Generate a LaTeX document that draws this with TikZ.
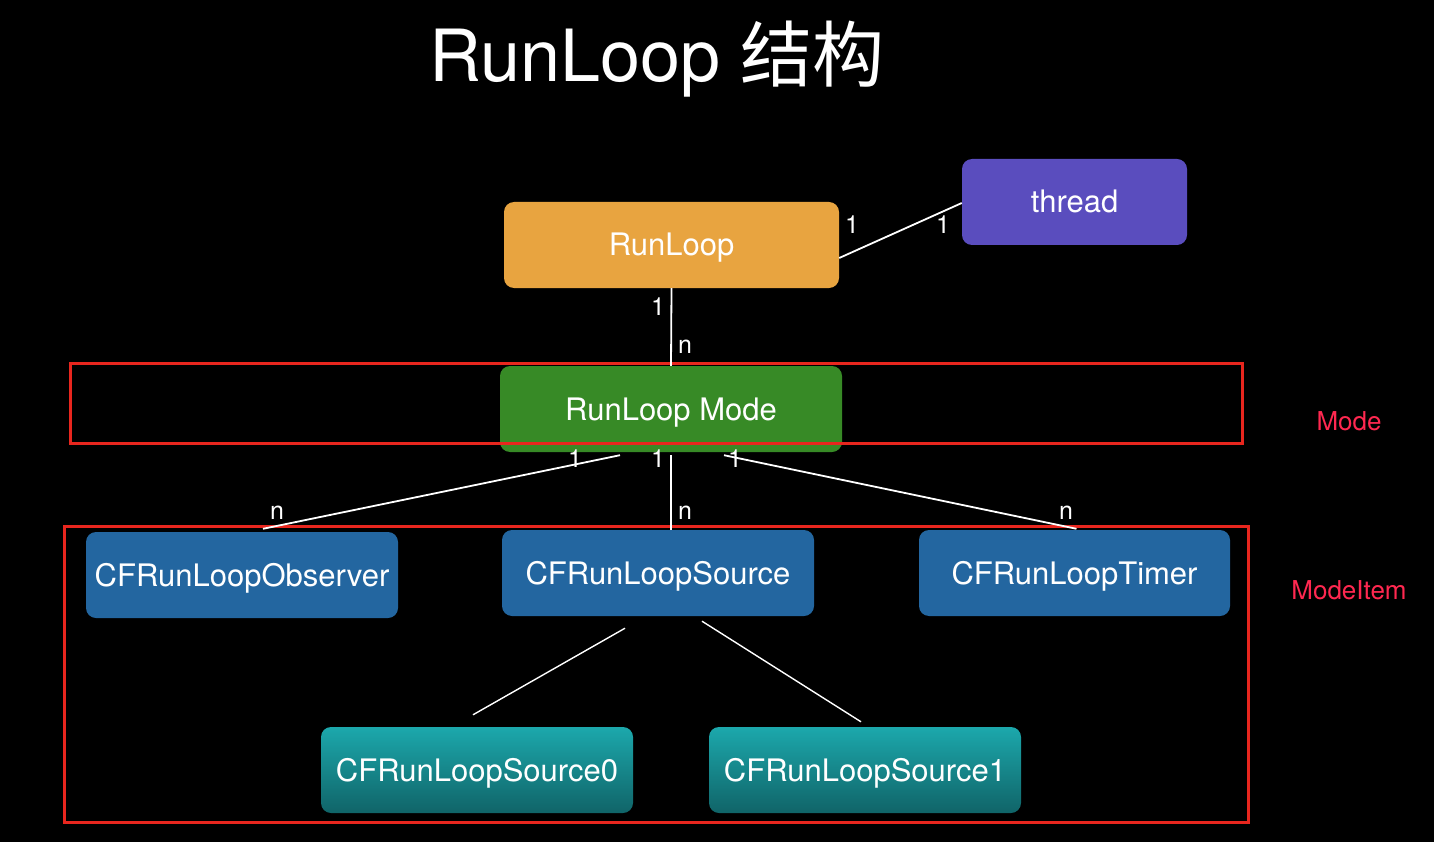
\documentclass[tikz,border=0pt]{standalone}
\usepackage{fontspec}
\setmainfont{TeX Gyre Heros}
\newfontfamily\cjk{Noto Sans CJK SC}
\definecolor{rlorange}{RGB}{232,164,64}
\definecolor{thpurple}{RGB}{90,77,190}
\definecolor{mdgreen}{RGB}{55,138,38}
\definecolor{itblue}{RGB}{35,102,160}
\definecolor{tealtop}{RGB}{28,168,172}
\definecolor{tealbot}{RGB}{16,100,104}
\definecolor{framered}{RGB}{232,38,30}
\definecolor{labpink}{RGB}{255,40,80}
\tikzset{
  box/.style={rounded corners=10pt, text=white, minimum width=312pt, minimum height=86pt,
    inner sep=0pt, text height=22pt, text depth=0pt, font=\fontsize{31}{37}\selectfont},
  tealbox/.style={box, top color=tealtop, bottom color=tealbot},
  frame/.style={draw=framered, line width=3pt, inner sep=0pt},
  conn/.style={draw=white, line width=1.8pt},
  lab/.style={text=white, inner sep=0pt, font=\fontsize{25}{30}\selectfont},
  side/.style={text=labpink, inner sep=0pt, font=\fontsize{26}{31}\selectfont}
}
\begin{document}
\begin{tikzpicture}[x=1pt,y=-1pt]
\fill[black] (0,0) rectangle (1434,842);
\useasboundingbox (0,0) rectangle (1434,842);

\node[text=white, anchor=base, inner sep=0pt, font=\fontsize{72}{86}\selectfont] (title) at (657,82) {RunLoop {\cjk 结构}};

\node[box, fill=rlorange, minimum width=335pt] (rl) at (671.5,245) {RunLoop};
\node[box, fill=thpurple, minimum width=225pt] (th) at (1074.5,202) {thread};
\node[box, fill=mdgreen, minimum width=342pt] (mode) at (671,409) {RunLoop Mode};
\node[box, fill=itblue] (obs) at (242,575) {CFRunLoopObserver};
\node[box, fill=itblue] (src) at (658,573) {CFRunLoopSource};
\node[box, fill=itblue, minimum width=311pt] (tim) at (1074.5,573) {CFRunLoopTimer};
\node[tealbox] (s0) at (477,770) {CFRunLoopSource0};
\node[tealbox] (s1) at (865,770) {CFRunLoopSource1};

\node[frame, minimum width=1172pt, minimum height=80pt] (mf) at (656,403) {};
\node[frame, minimum width=1184pt, minimum height=296pt] (itf) at (656,674) {};
\node[side] (mlab) at (1349,421) {Mode};
\node[side] (ilab) at (1349,590) {ModeItem};

\draw[conn] ([yshift=-13pt]rl.east) -- ([yshift=-1pt]th.west);
\draw[conn] (rl.south) -- (mode.north);
\draw[conn] ([xshift=-51pt,yshift=-3pt]mode.south) -- ([xshift=21pt,yshift=3pt]obs.north);
\draw[conn] ([yshift=-3pt]mode.south) -- (mode.south |- src.north);
\draw[conn] ([xshift=53pt,yshift=-3pt]mode.south) -- ([xshift=2pt,yshift=1pt]tim.north);
\draw[conn, line width=1.4pt] ([xshift=-33pt,yshift=-12pt]src.south) -- ([xshift=-4pt,yshift=12pt]s0.north);
\draw[conn, line width=1.4pt] ([xshift=44pt,yshift=-5pt]src.south) -- ([xshift=-4pt,yshift=5pt]s1.north);

\node[lab] (l1) at (852,225) {1};
\node[lab] (l2) at (943,225) {1};
\node[lab] (l3) at (658,307) {1};
\node[lab] (l4) at (685,347) {n};
\node[lab] (l5) at (575,459) {1};
\node[lab] (l6) at (658,459) {1};
\node[lab] (l7) at (735,459) {1};
\node[lab] (l8) at (277,513) {n};
\node[lab] (l9) at (685,513) {n};
\node[lab] (l10) at (1066,513) {n};
\end{tikzpicture}
\end{document}
